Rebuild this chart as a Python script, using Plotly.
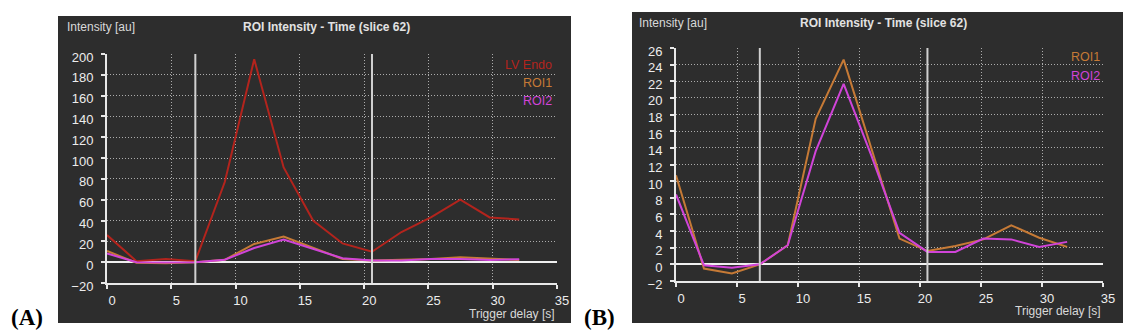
import plotly.graph_objects as go

# ---------------- data ----------------
trigger_delay = [0, 2.29, 4.58, 6.87, 9.16, 11.45, 13.74, 16.03, 18.32, 20.61, 22.9, 25.19, 27.48, 29.77, 32.06]
lv_endo = [26, 1, 3, 1, 77, 195, 91, 40, 18, 10, 29, 43, 60, 43, 41]
roi1 = [10.7, -0.5, -1.1, 0, 2.3, 17.5, 24.6, 13.9, 3.1, 1.6, 2.2, 3.0, 4.7, 3.2, 2.1]
roi2 = [8.4, -0.1, -0.4, 0, 2.3, 13.6, 21.7, 13.0, 3.8, 1.5, 1.5, 3.1, 3.0, 2.1, 2.7]

cursor_start = 6.87
cursor_end = 20.61
cursor_peak = 13.74

x_ticks = [0, 5, 10, 15, 20, 25, 30, 35]
y_ticks_a = [-20, 0, 20, 40, 60, 80, 100, 120, 140, 160, 180, 200]
y_ticks_b = [-2, 0, 2, 4, 6, 8, 10, 12, 14, 16, 18, 20, 22, 24, 26]

title_text = "ROI Intensity - Time (slice 62)"
y_label = "Intensity [au]"
x_label = "Trigger delay [s]"

# ---------------- style ----------------
PAGE_W, PAGE_H = 1136, 336
OFF = 8  # page body margin
W, H = PAGE_W - OFF, PAGE_H - OFF
DARK = "#2d2d2d"
RED = "#b3241d"
ORANGE = "#c67a36"
MAGENTA = "#d044d8"
TXT = "#d9d9d9"
FONT = "Liberation Sans, Arial, sans-serif"


def px(x):
    return (x - OFF) / W


def py(y):
    return 1 - (y - OFF) / H


fig = go.Figure()

panels = {
    "A": dict(dark=(58, 16, 571, 323), plot=(107, 54, 557, 283), yr=(-20, 200), yt=y_ticks_a,
              xa="x", ya="y", series=[("LV Endo", lv_endo, RED), ("ROI1", roi1, ORANGE), ("ROI2", roi2, MAGENTA)],
              leg_x=554, leg_y=[65, 83, 101], title_y=27, ylab_x=65, xlab_y=314, label="(A)", label_x=8.5),
    "B": dict(dark=(632, 12, 1123, 323), plot=(676, 48, 1103, 281), yr=(-2, 26), yt=y_ticks_b,
              xa="x2", ya="y2", series=[("ROI1", roi1, ORANGE), ("ROI2", roi2, MAGENTA)],
              leg_x=1102, leg_y=[57, 76], title_y=23, ylab_x=637, xlab_y=311, label="(B)", label_x=582),
}

shapes = []
annotations = []

for key, p in panels.items():
    dx0, dy0, dx1, dy1 = p["dark"]
    shapes.append(dict(type="rect", xref="paper", yref="paper", x0=px(dx0), x1=px(dx1), y0=py(dy1), y1=py(dy0),
                       fillcolor=DARK, line=dict(width=0), layer="below"))
    x0, y0, x1, y1 = p["plot"]
    axis_suffix = "" if key == "A" else "2"
    common_axis = dict(showline=True, linecolor="#e8e8e8", linewidth=2, ticks="outside", ticklen=4,
                       tickcolor="#e8e8e8", tickwidth=2, showgrid=True, gridcolor="rgba(215,215,215,0.75)",
                       griddash="1px,2px", gridwidth=1, automargin=False,
                       tickfont=dict(family=FONT, size=13, color="#ececec"))
    fig.update_layout(**{
        "xaxis" + axis_suffix: dict(domain=[px(x0), px(x1)], range=[0, 35], tickvals=x_ticks, zeroline=False,
                                    anchor=p["ya"], ticklabelshift=5, ticklabelstandoff=0, **common_axis),
        "yaxis" + axis_suffix: dict(domain=[py(y1), py(y0)], range=list(p["yr"]), tickvals=p["yt"],
                                    zeroline=True, zerolinecolor="#f0f0f0", zerolinewidth=2,
                                    anchor=p["xa"], ticklabelshift=3, ticklabelstandoff=5, **common_axis),
    })
    for name, vals, col in p["series"]:
        fig.add_trace(go.Scatter(x=trigger_delay, y=vals, mode="lines", name=name, xaxis=p["xa"], yaxis=p["ya"],
                                 line=dict(color=col, width=2), showlegend=False))
    for c in (cursor_start, cursor_end):
        shapes.append(dict(type="line", xref=p["xa"], yref=p["ya"] + " domain", x0=c, x1=c, y0=0, y1=1,
                           line=dict(color="#d0d0d0", width=2), layer="above"))
    ymin, ymax = p["yr"]
    unit_per_px = (ymax - ymin) / (y1 - y0)
    bar_y = ymin - 5.5 * unit_per_px
    fig.add_trace(go.Scatter(x=[cursor_start, cursor_end], y=[bar_y, bar_y], mode="lines", xaxis=p["xa"],
                             yaxis=p["ya"], line=dict(color="#f0f0f0", width=1.2, dash="3px,2px"),
                             cliponaxis=False, showlegend=False, hoverinfo="skip"))
    xu = 35 / (x1 - x0)
    fig.add_trace(go.Scatter(x=[cursor_start + 3.5 * xu, cursor_end - 3.5 * xu], y=[bar_y, bar_y], mode="markers",
                             xaxis=p["xa"], yaxis=p["ya"],
                             marker=dict(symbol=["triangle-right", "triangle-left"], size=8, color="#f4f4f4"),
                             cliponaxis=False, showlegend=False, hoverinfo="skip"))
    fig.add_trace(go.Scatter(x=[cursor_peak], y=[bar_y], mode="markers", xaxis=p["xa"], yaxis=p["ya"],
                             marker=dict(symbol="square", size=5, color="#f4f4f4"),
                             cliponaxis=False, showlegend=False, hoverinfo="skip"))
    annotations.append(dict(text=y_label, x=px(p["ylab_x"]), y=py(p["title_y"]), xref="paper", yref="paper",
                            xanchor="left", yanchor="middle", showarrow=False,
                            font=dict(family=FONT, size=12, color=TXT)))
    annotations.append(dict(text="<b>" + title_text + "</b>", x=(px(x0) + px(x1)) / 2 - 6 / W, y=py(p["title_y"]),
                            xref="paper", yref="paper", xanchor="center", yanchor="middle", showarrow=False,
                            font=dict(family=FONT, size=12, color="#e2e2e2")))
    annotations.append(dict(text=x_label, x=px(x1), y=py(p["xlab_y"]), xref="paper", yref="paper",
                            xanchor="right", yanchor="middle", showarrow=False,
                            font=dict(family=FONT, size=12, color=TXT)))
    for (name, vals, col), ly in zip(p["series"], p["leg_y"]):
        annotations.append(dict(text=name, x=px(p["leg_x"]), y=py(ly), xref="paper", yref="paper",
                                xanchor="right", yanchor="middle", showarrow=False,
                                font=dict(family=FONT, size=12.5, color=col)))
    annotations.append(dict(text="<b>" + p["label"] + "</b>", x=px(p["label_x"]), y=py(317), xref="paper",
                            yref="paper", xanchor="left", yanchor="middle", showarrow=False,
                            font=dict(family="Liberation Serif, Times New Roman, serif", size=23, color="black")))

fig.update_layout(width=W, height=H, margin=dict(l=0, r=0, t=0, b=0, autoexpand=False), paper_bgcolor="white",
                  plot_bgcolor="rgba(0,0,0,0)", shapes=shapes, annotations=annotations, showlegend=False)

fig.write_html("out.html")
